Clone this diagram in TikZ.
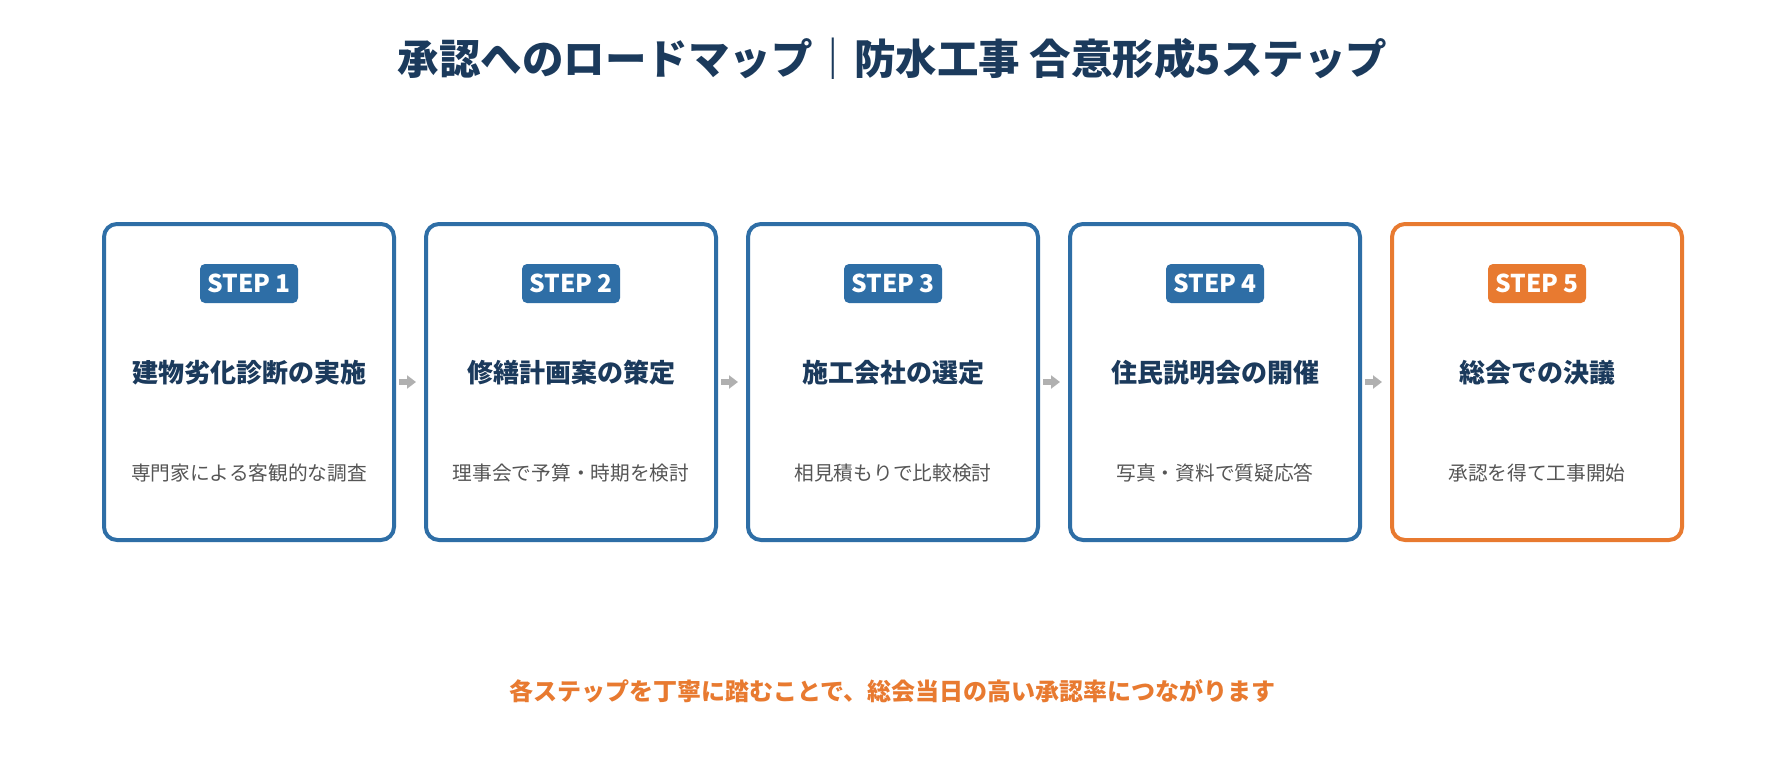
\documentclass[tikz,border=0pt]{standalone}
\usepackage{fontspec}
\setmainfont{Noto Sans CJK JP}
\usetikzlibrary{arrows.meta}
\definecolor{navy}{HTML}{1B3A5C}
\definecolor{stepblue}{HTML}{2E6EA6}
\definecolor{steporange}{HTML}{E87A30}
\definecolor{desc}{HTML}{555555}
\definecolor{arr}{HTML}{B0B0B0}
\tikzset{
  stepbox/.style={draw=stepblue, line width=4pt, rounded corners=13pt, fill=white,
    minimum width=290pt, minimum height=316pt, inner sep=0pt},
  lastbox/.style={stepbox, draw=steporange},
  badge/.style={fill=stepblue, rounded corners=5pt, text=white, minimum width=98pt,
    minimum height=39pt, inner sep=0pt, font=\fontsize{24.5}{28}\selectfont\bfseries},
  lastbadge/.style={badge, fill=steporange},
  heading/.style={text=navy, font=\fontsize{26}{30}\selectfont\bfseries},
  subtext/.style={text=desc, font=\fontsize{19.7}{24}\selectfont},
  flow/.style={draw=arr, line width=5.5pt, -{Triangle[length=9pt,width=13pt]}, shorten <=3pt, shorten >=8pt}
}
\begin{document}
\begin{tikzpicture}[x=1pt,y=-1pt]
\useasboundingbox[fill=white] (0,0) rectangle (1785,765);
\node[text=navy, font=\fontsize{41.5}{48}\selectfont\bfseries] (title) at (892.5,59) {承認へのロードマップ｜防水工事 合意形成5ステップ};
% boxes
\node[stepbox] (b1) at (249,382) {};
\node[stepbox] (b2) at (571,382) {};
\node[stepbox] (b3) at (893,382) {};
\node[stepbox] (b4) at (1215,382) {};
\node[lastbox] (b5) at (1537,382) {};
% badges
\node[badge] (s1) at (249,283.5) {STEP 1};
\node[badge] (s2) at (571,283.5) {STEP 2};
\node[badge] (s3) at (893,283.5) {STEP 3};
\node[badge] (s4) at (1215,283.5) {STEP 4};
\node[lastbadge] (s5) at (1537,283.5) {STEP 5};
% headings
\node[heading] (h1) at (249,373) {建物劣化診断の実施};
\node[heading] (h2) at (571,373) {修繕計画案の策定};
\node[heading] (h3) at (893,373) {施工会社の選定};
\node[heading] (h4) at (1215,373) {住民説明会の開催};
\node[heading] (h5) at (1537,373) {総会での決議};
% descriptions
\node[subtext] (d1) at (249,473) {専門家による客観的な調査};
\node[subtext] (d2) at (571,473) {理事会で予算・時期を検討};
\node[subtext] (d3) at (893,473) {相見積もりで比較検討};
\node[subtext] (d4) at (1215,473) {写真・資料で質疑応答};
\node[subtext] (d5) at (1537,473) {承認を得て工事開始};
% arrows
\draw[flow] (b1.east) -- (b2.west);
\draw[flow] (b2.east) -- (b3.west);
\draw[flow] (b3.east) -- (b4.west);
\draw[flow] (b4.east) -- (b5.west);
% footer
\node[text=steporange, font=\fontsize{24}{28}\selectfont\bfseries] (foot) at (892.5,691) {各ステップを丁寧に踏むことで、総会当日の高い承認率につながります};
\end{tikzpicture}
\end{document}
